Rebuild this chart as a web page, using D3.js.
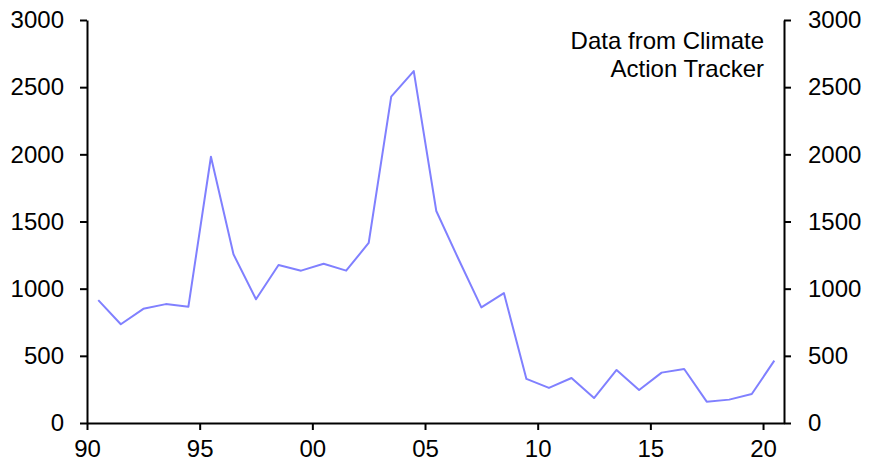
<!DOCTYPE html>
<html>
<head>
<meta charset="utf-8">
<script src="https://cdn.jsdelivr.net/npm/d3@7"></script>
<style>
  body { margin: 0; background: #fff; }
  svg { display: block; }
</style>
</head>
<body>
<div id="container"></div>
<script>
// data, one value per year (plotted at mid-year)
const years = d3.range(1990, 2021);
const values = [
  915, 735, 850, 885, 866, 1982, 1256, 921, 1176, 1134,
  1186, 1134, 1340, 2429, 2620, 1578, 1215, 861, 967, 328,
  261, 335, 186, 395, 246, 375, 402, 159, 174, 216, 464
];
const yTicks = [0, 500, 1000, 1500, 2000, 2500, 3000];
const xTicks = [1990, 1995, 2000, 2005, 2010, 2015, 2020];
const note = ["Data from Climate", "Action Tracker"];

const width = 880;
const height = 468;
const margin = { top: 20, right: 96, bottom: 45, left: 87 };
const innerWidth = width - margin.left - margin.right;
const innerHeight = height - margin.top - margin.bottom;

const fontFamily = "'Liberation Sans', Arial, sans-serif";
const fontSize = 24;

const svg = d3.select("#container")
  .append("svg")
  .attr("width", width)
  .attr("height", height)
  .attr("font-family", fontFamily)
  .attr("font-size", fontSize);
const g = svg.append("g")
  .attr("transform", `translate(${margin.left}, ${margin.top})`);

// scales
const scaleX = d3.scaleLinear()
  .domain([1990, 2020.93])
  .range([0, innerWidth]);
const scaleY = d3.scaleLinear()
  .domain([0, 3000])
  .range([innerHeight, 0]);

function styleAxis(sel) {
  sel.attr("font-family", fontFamily)
    .attr("font-size", fontSize);
  sel.selectAll("path, line")
    .attr("stroke", "#000")
    .attr("stroke-width", 2);
  sel.selectAll("text")
    .attr("fill", "#000");
}

// axes
g.append("g")
  .attr("class", "groupAxisY")
  .call(d3.axisLeft(scaleY).tickValues(yTicks).tickFormat(d3.format("d"))
    .tickSize(7).tickSizeOuter(0).tickPadding(16))
  .call(styleAxis);
g.append("g")
  .attr("class", "groupAxisY2")
  .attr("transform", `translate(${innerWidth}, 0)`)
  .call(d3.axisRight(scaleY).tickValues(yTicks).tickFormat(d3.format("d"))
    .tickSize(7).tickSizeOuter(0).tickPadding(17))
  .call(styleAxis);
g.append("g")
  .attr("class", "groupAxisX")
  .attr("transform", `translate(0, ${innerHeight})`)
  .call(d3.axisBottom(scaleX)
    .tickValues(xTicks)
    .tickSize(7)
    .tickSizeOuter(0)
    .tickPadding(10)
    .tickFormat(d => String(d % 100).padStart(2, "0")))
  .call(styleAxis);

// line
const line = d3.line()
  .x((d, i) => scaleX(years[i] + 0.5))
  .y(d => scaleY(d));
g.append("path")
  .datum(values)
  .attr("fill", "none")
  .attr("stroke", "#8080ff")
  .attr("stroke-width", 2)
  .attr("stroke-linejoin", "round")
  .attr("d", line);

// annotation
g.append("text")
  .attr("x", 677)
  .attr("y", 29)
  .attr("text-anchor", "end")
  .attr("fill", "#000")
  .selectAll("tspan")
  .data(note)
  .join("tspan")
  .attr("x", 677)
  .attr("dy", (d, i) => i === 0 ? 0 : 28)
  .text(d => d);
</script>
</body>
</html>
